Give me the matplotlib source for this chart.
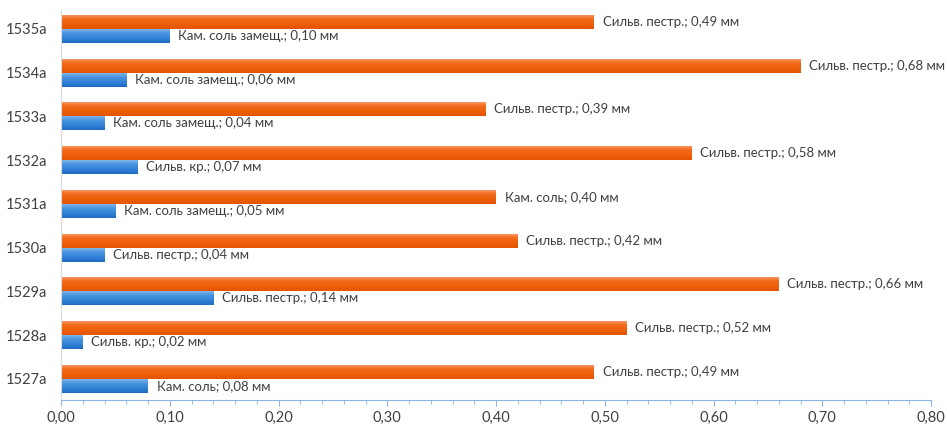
import numpy as np
import matplotlib.pyplot as plt
from matplotlib.colors import LinearSegmentedColormap

plt.rcParams["font.family"] = ["Lato", "DejaVu Sans"]

samples = ["1527a", "1528a", "1529a", "1530a", "1531a",
           "1532a", "1533a", "1534a", "1535a"]

# thick layer (upper bar of each pair)
upper_vals = [0.49, 0.52, 0.66, 0.42, 0.40, 0.58, 0.39, 0.68, 0.49]
upper_names = ["Сильв. пестр.", "Сильв. пестр.", "Сильв. пестр.", "Сильв. пестр.",
               "Кам. соль", "Сильв. пестр.", "Сильв. пестр.", "Сильв. пестр.",
               "Сильв. пестр."]

# thin layer (lower bar of each pair)
lower_vals = [0.08, 0.02, 0.14, 0.04, 0.05, 0.07, 0.04, 0.06, 0.10]
lower_names = ["Кам. соль", "Сильв. кр.", "Сильв. пестр.", "Сильв. пестр.",
               "Кам. соль замещ.", "Сильв. кр.", "Кам. соль замещ.",
               "Кам. соль замещ.", "Кам. соль замещ."]

xticks = [0.0, 0.1, 0.2, 0.3, 0.4, 0.5, 0.6, 0.7, 0.8]

orange_cmap = LinearSegmentedColormap.from_list(
    "og", ["#F8A070", "#F26A1B", "#EE5F0A", "#E25500"])
blue_cmap = LinearSegmentedColormap.from_list(
    "bl", ["#8CBCEB", "#4A95E0", "#3283D8", "#1E6CC2"])

text_col = "#404040"
axis_col = "#8DB4E2"


def comma(v):
    return f"{v:.2f}".replace(".", ",")


def shade(ax, bars, cmap):
    # vertical gradient drawn inside each bar patch
    grad = np.linspace(0, 1, 64).reshape(-1, 1)
    for b in bars:
        x0, y0 = b.get_x(), b.get_y()
        w, h = b.get_width(), b.get_height()
        im = ax.imshow(grad, cmap=cmap, aspect="auto", origin="upper",
                       extent=(x0, x0 + w, y0, y0 + h), zorder=2,
                       interpolation="bilinear")
        im.set_clip_path(b)


fig = plt.figure(figsize=(9.47, 4.26), dpi=100)
ax = fig.add_axes([61 / 947, 26 / 426, 870 / 947, 390 / 426])

y = np.arange(len(samples))
h = 0.32
top = ax.barh(y + h / 2, upper_vals, height=h, color="#EE5F0A", zorder=1)
bot = ax.barh(y - h / 2, lower_vals, height=h, color="#3283D8", zorder=1)
shade(ax, top, orange_cmap)
shade(ax, bot, blue_cmap)

for yy, v, n in zip(y, upper_vals, upper_names):
    ax.text(v + 0.008, yy + h / 2, f"{n}; {comma(v)} мм",
            va="center", ha="left", fontsize=9.5, color=text_col)
for yy, v, n in zip(y, lower_vals, lower_names):
    ax.text(v + 0.008, yy - h / 2, f"{n}; {comma(v)} мм",
            va="center", ha="left", fontsize=9.5, color=text_col)

ax.set_xlim(0, 0.8)
ax.set_ylim(-0.48, 8.43)
ax.set_yticks(y)
ax.set_yticklabels(samples)
ax.set_xticks(xticks)
ax.set_xticklabels([comma(t) for t in xticks])
ax.set_xticks(np.arange(0, 0.801, 0.02), minor=True)

for s in ["top", "right"]:
    ax.spines[s].set_visible(False)
ax.spines["bottom"].set_color(axis_col)
ax.spines["left"].set_color("#D9D9D9")
ax.tick_params(axis="y", length=0, pad=10, labelsize=10.5, labelcolor=text_col)
ax.tick_params(axis="x", which="both", direction="out", color=axis_col,
               labelsize=10.5, labelcolor=text_col, pad=4)
ax.tick_params(axis="x", which="major", length=4)
ax.tick_params(axis="x", which="minor", length=3)

fig.savefig("out.png", dpi=100)
